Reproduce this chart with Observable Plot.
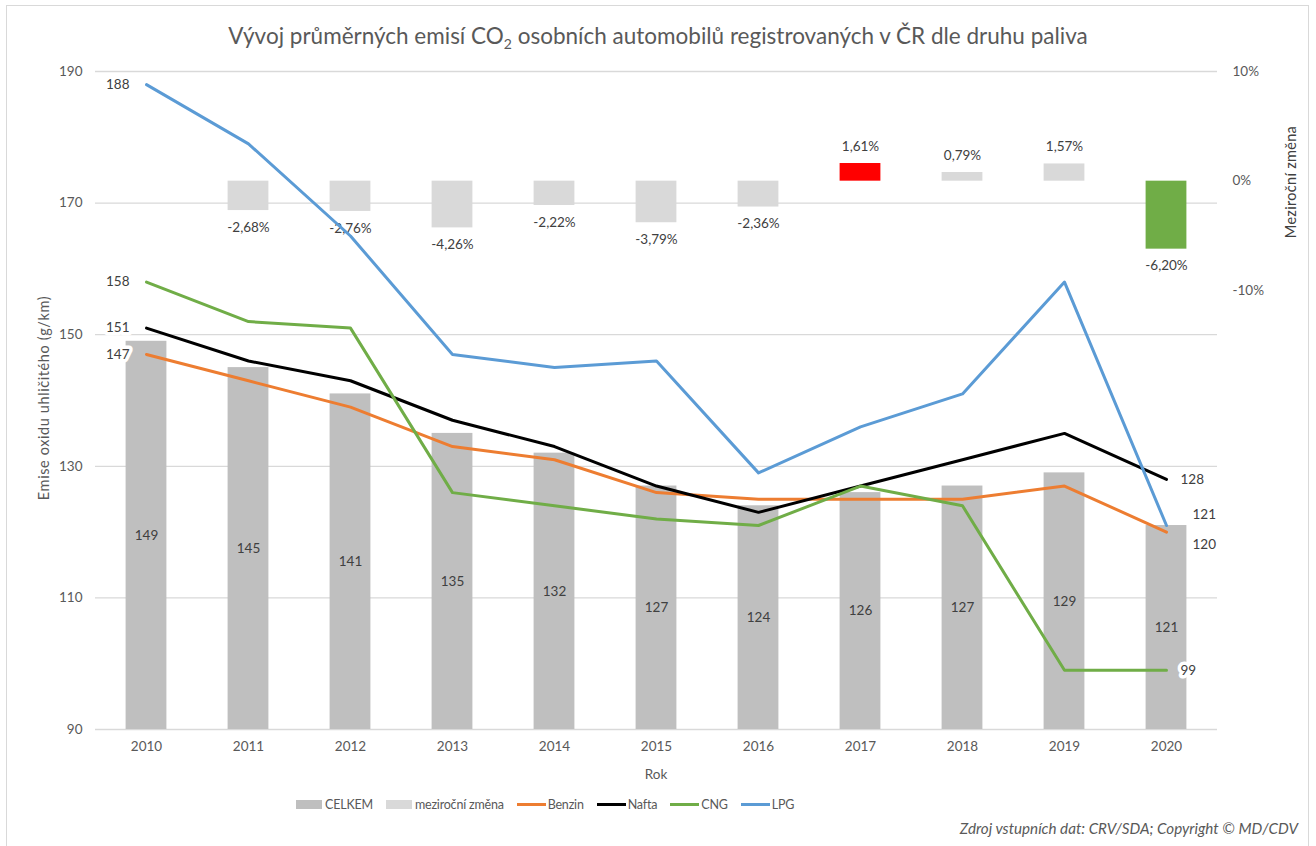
<!DOCTYPE html>
<html>
<head>
<meta charset="utf-8">
<script src="https://cdn.jsdelivr.net/npm/d3@7"></script>
<script src="https://cdn.jsdelivr.net/npm/@observablehq/plot@0.6"></script>
<style>
  html, body { margin: 0; padding: 0; background: #fff; }
  #wrap { position: relative; width: 1316px; height: 846px; overflow: hidden; font-family: Lato, "Open Sans", sans-serif; }
  #border { position: absolute; left: 6px; top: 5px; width: 1303px; height: 860px; border: 1px solid #d9d9d9; box-sizing: border-box; }
  #title { position: absolute; left: 0; width: 1316px; top: 22px; text-align: center; font-size: 22.5px; color: #595959; }
  #title sub { font-size: 14px; vertical-align: -5px; line-height: 0; }
  #chart { position: absolute; left: 0; top: 0; }
  .vt { position: absolute; transform: translate(-50%, -50%) rotate(-90deg); white-space: nowrap; }
  #ylab { left: 43px; top: 398px; color: #595959; font-size: 14.5px; letter-spacing: 0.6px; }
  #ylab2 { left: 1290px; top: 182px; color: #404040; font-size: 14.5px; letter-spacing: 0.3px; }
  #xlab { position: absolute; left: 0; width: 1312px; text-align: center; top: 766px; font-size: 13.5px; color: #595959; }
  #legend { position: absolute; left: 296px; top: 797px; display: flex; align-items: center; font-size: 12.5px; color: #595959; letter-spacing: -0.2px; }
  #legend .it { display: flex; align-items: center; margin-right: 13px; }
  #legend .sw { width: 26px; height: 9px; margin-right: 3px; }
  #legend .ln { width: 29px; height: 3px; margin-right: 2px; }
  #caption { position: absolute; right: 18px; top: 819px; font-style: italic; font-size: 15.2px; color: #595959; }
</style>
</head>
<body>
<div id="wrap">
  <div id="border"></div>
  <div id="chart"></div>
  <div id="title">Vývoj průměrných emisí CO<sub>2</sub> osobních automobilů registrovaných v ČR dle druhu paliva</div>
  <div id="ylab" class="vt">Emise oxidu uhličitého (g/km)</div>
  <div id="ylab2" class="vt">Meziroční změna</div>
  <div id="xlab">Rok</div>
  <div id="legend"></div>
  <div id="caption">Zdroj vstupních dat: CRV/SDA; Copyright © MD/CDV</div>
</div>
<script>
// ---- data ----
const years = [2010, 2011, 2012, 2013, 2014, 2015, 2016, 2017, 2018, 2019, 2020];
const celkem = [149, 145, 141, 135, 132, 127, 124, 126, 127, 129, 121];
const changeYears = [2011, 2012, 2013, 2014, 2015, 2016, 2017, 2018, 2019, 2020];
const changePct = [-2.68, -2.76, -4.26, -2.22, -3.79, -2.36, 1.61, 0.79, 1.57, -6.20];
const benzin = [147, 143, 139, 133, 131, 126, 125, 125, 125, 127, 120];
const nafta = [151, 146, 143, 137, 133, 127, 123, 127, 131, 135, 128];
const cng = [158, 152, 151, 126, 124, 122, 121, 127, 124, 99, 99];
const lpg = [188, 179, 165, 147, 145, 146, 129, 136, 141, 158, 121];
const seriesNames = ["Benzin", "Nafta", "CNG", "LPG"];
const leftTicks = [90, 110, 130, 150, 170, 190];
const rightTicks = [10, 0, -10];
const leftDomain = [90, 190];
const rightDomain = [-50, 10];

// ---- styles ----
const colors = {Benzin: "#ed7d31", Nafta: "#000000", CNG: "#70ad47", LPG: "#5b9bd5"};
const colTotal = "#bfbfbf", colChange = "#d9d9d9", colUp = "#ff0000", colDown = "#70ad47";
const labelColor = "#404040";

// ---- derived tables ----
const toY = p => leftDomain[0] + (p - rightDomain[0]) * (leftDomain[1] - leftDomain[0]) / (rightDomain[1] - rightDomain[0]);
const fromY = v => rightDomain[0] + (v - leftDomain[0]) * (rightDomain[1] - rightDomain[0]) / (leftDomain[1] - leftDomain[0]);
const totalData = years.map((year, i) => ({year, value: celkem[i]}));
const changeData = changeYears.map((year, i) => ({year, pct: changePct[i]}));
const maxPct = d3.max(changePct), minPct = d3.min(changePct);
const seriesArrays = [benzin, nafta, cng, lpg];
const lineData = seriesNames.flatMap((s, k) => years.map((year, i) => ({series: s, year, value: seriesArrays[k][i]})));
const first = lineData.filter(d => d.year === years[0]);
const last = lineData.filter(d => d.year === years[years.length - 1]);
const fmtPct = p => p.toFixed(2).replace(".", ",") + "%";
const base = leftDomain[0];

const textStyle = {fill: labelColor, fontSize: 13.5, stroke: "white", strokeWidth: 7, paintOrder: "stroke", strokeLinejoin: "round"};

const chart = Plot.plot({
  width: 1316,
  height: 790,
  marginLeft: 95,
  marginRight: 99,
  marginTop: 71,
  marginBottom: 61,
  style: {fontFamily: "Lato, 'Open Sans', sans-serif", fontSize: "13px", color: "#595959", background: "transparent", overflow: "visible"},
  x: {type: "band", domain: years, paddingInner: 0.6, paddingOuter: 0.3, round: false},
  y: {domain: leftDomain},
  color: {type: "identity"},
  marks: [
    Plot.gridY(leftTicks, {stroke: "#d9d9d9", strokeOpacity: 1, strokeWidth: 1.3}),
    Plot.axisY(leftTicks, {tickSize: 0, tickPadding: 13, label: null, fill: "#595959", fontSize: 13.5}),
    Plot.axisY(rightTicks.map(toY), {anchor: "right", tickSize: 0, tickPadding: 15, label: null, fill: "#595959", fontSize: 13.5, tickFormat: v => Math.round(fromY(v)) + "%"}),
    Plot.axisX({tickSize: 0, tickPadding: 12, label: null, fill: "#595959", fontSize: 13.5, tickFormat: d => String(d)}),
    Plot.barY(totalData, {x: "year", y1: base, y2: "value", fill: colTotal}),
    Plot.text(totalData, {x: "year", y: d => (d.value + base) / 2, text: d => String(d.value), fill: labelColor, fontSize: 13.5}),
    Plot.barY(changeData, {x: "year", y1: toY(0), y2: d => toY(d.pct), fill: d => d.pct === maxPct ? colUp : d.pct === minPct ? colDown : colChange}),
    Plot.text(changeData.filter(d => d.pct >= 0), {x: "year", y: d => toY(d.pct), dy: -17, text: d => fmtPct(d.pct), fill: labelColor, fontSize: 13.5}),
    Plot.text(changeData.filter(d => d.pct < 0), {x: "year", y: d => toY(d.pct), dy: 17, text: d => fmtPct(d.pct), fill: labelColor, fontSize: 13.5}),
    Plot.line(lineData, {x: "year", y: "value", z: "series", stroke: d => colors[d.series], strokeWidth: 3, strokeLinejoin: "round"}),
    Plot.text(first, {x: "year", y: "value", text: d => String(d.value), textAnchor: "end", dx: -17, ...textStyle}),
    Plot.text(last.filter(d => d.series === "Nafta" || d.series === "CNG"), {x: "year", y: "value", text: d => String(d.value), textAnchor: "start", dx: 14, ...textStyle}),
    Plot.text(last.filter(d => d.series === "LPG"), {x: "year", y: "value", text: d => String(d.value), textAnchor: "start", dx: 26, dy: -11, ...textStyle}),
    Plot.text(last.filter(d => d.series === "Benzin"), {x: "year", y: "value", text: d => String(d.value), textAnchor: "start", dx: 26, dy: 13, ...textStyle})
  ]
});
document.getElementById("chart").appendChild(chart);

// legend
const legend = document.getElementById("legend");
const items = [
  {name: "CELKEM", kind: "sw", color: colTotal},
  {name: "meziroční změna", kind: "sw", color: colChange},
  ...seriesNames.map(s => ({name: s, kind: "ln", color: colors[s]}))
];
for (const it of items) {
  const el = document.createElement("div");
  el.className = "it";
  const sw = document.createElement("span");
  sw.className = it.kind;
  sw.style.background = it.color;
  const tx = document.createElement("span");
  tx.textContent = it.name;
  el.appendChild(sw); el.appendChild(tx);
  legend.appendChild(el);
}
</script>
</body>
</html>
